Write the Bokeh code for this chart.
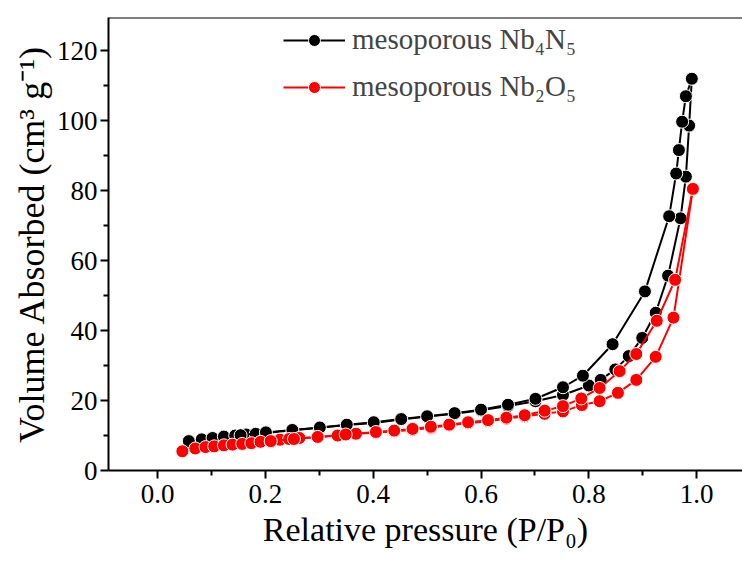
from bokeh.plotting import figure
from bokeh.models import Range1d, FixedTicker, Span, Legend, LegendItem, NumeralTickFormatter
from bokeh.embed import file_html
from bokeh.resources import INLINE

# --- data ---
nb4n5_ads_x = [0.058, 0.082, 0.102, 0.123, 0.144, 0.164, 0.182, 0.201, 0.250, 0.301,
               0.351, 0.401, 0.452, 0.500, 0.551, 0.600, 0.650, 0.701, 0.752, 0.800,
               0.822, 0.849, 0.874, 0.899, 0.924, 0.947, 0.970, 0.980, 0.986, 0.991]
nb4n5_ads_y = [8.4, 8.9, 9.3, 9.7, 10.0, 10.3, 10.5, 10.7, 11.5, 12.2,
               13.0, 13.6, 14.6, 15.4, 16.2, 17.2, 18.4, 19.8, 21.6, 24.3,
               25.9, 28.9, 32.7, 37.9, 45.1, 55.7, 72.1, 84.0, 98.6, 112.0]
nb4n5_des_x = [0.991, 0.980, 0.973, 0.967, 0.962, 0.949, 0.904, 0.844, 0.789, 0.752,
               0.701, 0.650, 0.600, 0.551, 0.500, 0.452, 0.401, 0.351, 0.301, 0.250,
               0.201, 0.154]
nb4n5_des_y = [112.0, 107.0, 99.7, 91.6, 84.9, 72.7, 51.2, 36.1, 27.1, 23.8,
               20.5, 18.8, 17.4, 16.4, 15.5, 14.7, 13.8, 13.1, 12.3, 11.6,
               10.9, 10.1]

nb2o5_ads_x = [0.046, 0.070, 0.089, 0.105, 0.123, 0.139, 0.157, 0.174, 0.191, 0.210,
               0.227, 0.244, 0.263, 0.297, 0.334, 0.368, 0.405, 0.439, 0.473, 0.507,
               0.541, 0.576, 0.613, 0.647, 0.681, 0.718, 0.752, 0.787, 0.820, 0.854,
               0.888, 0.924, 0.957, 0.993]
nb2o5_ads_y = [5.5, 6.3, 6.7, 6.9, 7.2, 7.4, 7.6, 7.8, 8.2, 8.2,
               8.8, 9.0, 9.3, 9.5, 10.0, 10.5, 10.8, 11.2, 11.6, 12.2,
               12.9, 13.5, 14.1, 14.8, 15.5, 16.2, 16.9, 18.7, 19.8, 22.2,
               25.9, 32.5, 43.7, 80.5]
nb2o5_des_x = [0.993, 0.960, 0.926, 0.888, 0.857, 0.820, 0.786, 0.752, 0.718, 0.681,
               0.647, 0.613, 0.576, 0.541, 0.507, 0.473, 0.439, 0.405, 0.349, 0.297,
               0.253, 0.210]
nb2o5_des_y = [80.5, 54.5, 42.8, 33.3, 28.4, 23.6, 20.6, 18.4, 17.1, 15.8,
               15.1, 14.4, 13.8, 13.1, 12.5, 11.9, 11.4, 11.0, 10.3, 9.6,
               9.0, 8.4]

x_ticks = [0.0, 0.2, 0.4, 0.6, 0.8, 1.0]
y_ticks = [0, 20, 40, 60, 80, 100, 120]
label_nb4n5 = "mesoporous Nb\u2084N\u2085"
label_nb2o5 = "mesoporous Nb\u2082O\u2085"
x_title = "Relative pressure (P/P\u2080)"
y_title = "Volume Absorbed (cm\u00b3 g\u207b\u00b9)"

FONT = "Liberation Serif"

p = figure(width=742, height=562, output_backend="svg", toolbar_location=None,
           x_range=Range1d(-0.091, 1.085), y_range=Range1d(0, 129.5),
           min_border_left=108, min_border_top=17, min_border_right=0,
           min_border_bottom=92)
p.outline_line_color = None
p.grid.visible = False
p.background_fill_color = "white"
p.border_fill_color = "white"

top_line = Span(location=129.5, dimension="width", line_color="black", line_width=2)
p.add_layout(top_line)

renderers = {}
for xs, ys, col, key in [
    (nb4n5_ads_x, nb4n5_ads_y, "black", "a"),
    (nb4n5_des_x, nb4n5_des_y, "black", "a2"),
    (nb2o5_ads_x, nb2o5_ads_y, "red", "b"),
    (nb2o5_des_x, nb2o5_des_y, "red", "b2"),
]:
    ln = p.line(xs, ys, line_color=col, line_width=2)
    sc = p.scatter(xs, ys, size=13, fill_color=col, line_color="white", line_width=1)
    renderers[key] = (ln, sc)

legend = Legend(items=[
    LegendItem(label=label_nb4n5, renderers=[renderers["a"][0], renderers["a"][1]]),
    LegendItem(label=label_nb2o5, renderers=[renderers["b"][0], renderers["b"][1]]),
], location=(175, 367))
legend.border_line_color = None
legend.background_fill_alpha = 0
legend.label_text_font = FONT
legend.label_text_font_size = "29px"
legend.glyph_width = 62
legend.glyph_height = 30
legend.label_height = 30
legend.spacing = 14
legend.padding = 5
legend.margin = 0
legend.label_standoff = 7
p.add_layout(legend)

for ax in (p.xaxis[0], p.yaxis[0]):
    ax.axis_line_width = 2
    ax.major_tick_line_width = 2
    ax.minor_tick_line_width = 2
    ax.major_tick_out = 8
    ax.major_tick_in = 0
    ax.minor_tick_out = 5
    ax.minor_tick_in = 0
    ax.major_label_text_font = FONT
    ax.major_label_text_font_size = "27px"
    ax.major_label_text_color = "black"
    ax.axis_label_text_font = FONT
    ax.axis_label_text_font_style = "normal"
    ax.axis_label_text_color = "black"

p.xaxis[0].axis_label_text_font_size = "34px"
p.yaxis[0].axis_label_text_font_size = "36px"
p.xaxis[0].ticker = FixedTicker(ticks=x_ticks, minor_ticks=[-0.1, 0.1, 0.3, 0.5, 0.7, 0.9])
p.yaxis[0].ticker = FixedTicker(ticks=y_ticks, minor_ticks=[10, 30, 50, 70, 90, 110])
p.xaxis[0].formatter = NumeralTickFormatter(format="0.0")
p.yaxis[0].formatter = NumeralTickFormatter(format="0")
p.xaxis[0].axis_label = x_title
p.yaxis[0].axis_label = y_title
p.xaxis[0].major_label_standoff = 6
p.yaxis[0].major_label_standoff = 3
p.xaxis[0].axis_label_standoff = 5
p.yaxis[0].axis_label_standoff = 2

open("out.html", "w").write(file_html(p, INLINE))
